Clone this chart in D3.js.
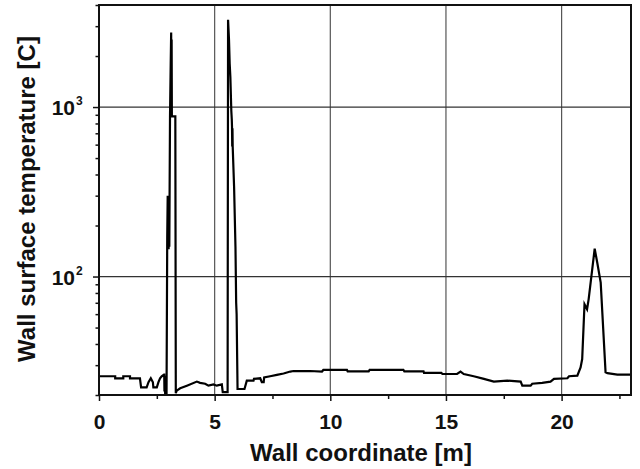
<!DOCTYPE html>
<html>
<head>
<meta charset="utf-8">
<script src="https://cdn.jsdelivr.net/npm/d3@7"></script>
<style>
  body { margin: 0; background: #fff; }
  text { font-family: "Liberation Sans", Arial, sans-serif; fill: #111; }
</style>
</head>
<body>
<script>
// wall coordinate [m] and surface temperature [C]
const wallX = [
    0.04, 0.70, 0.70, 1.05, 1.05, 1.34, 1.34, 1.77, 1.82, 2.06,
    2.14, 2.24, 2.33, 2.35, 2.50, 2.57, 2.64, 2.71, 2.81, 2.82,
    2.83, 2.845, 2.86, 2.92, 2.95, 2.97, 2.98, 3.00, 3.01, 3.03,
    3.04, 3.07, 3.10, 3.12, 3.13, 3.14, 3.15, 3.30, 3.32, 3.36,
    3.51, 3.80, 4.23, 4.37, 4.59, 4.73, 4.95, 5.09, 5.31, 5.35,
    5.56, 5.58, 5.62, 5.65, 5.68, 5.72, 5.74, 5.75, 5.76, 5.77,
    5.78, 5.84, 5.90, 5.93, 5.95, 5.98, 5.99, 6.29, 6.39, 6.68,
    6.70, 6.97, 7.04, 7.12, 7.14, 7.40, 7.69, 7.98, 8.27, 8.41,
    9.13, 9.64, 9.70, 10.72, 10.75, 11.66, 11.70, 13.16, 13.20, 14.03,
    14.05, 14.80, 14.85, 15.48, 15.63, 15.77, 16.20, 16.64, 17.07, 17.65,
    18.23, 18.30, 18.66, 18.73, 19.16, 19.52, 19.67, 20.25, 20.32, 20.68,
    20.82, 20.89, 20.99, 21.10, 21.17, 21.43, 21.54, 21.69, 21.90, 21.98,
    22.41, 22.97
];
const wallTemp = [
    25.8, 25.8, 25.1, 25.1, 25.8, 25.8, 25.1, 25.1, 22.2, 22.2,
    23.8, 25.1, 23.8, 22.2, 22.2, 23.8, 25.1, 25.8, 26.4, 26.4,
    21.0, 26.0, 20.5, 20.5, 170, 300, 145, 300, 145, 300,
    150, 880, 1800, 2750, 900, 2500, 880, 880, 20.5, 21.2,
    21.9, 22.7, 24.0, 23.6, 23.3, 22.7, 23.1, 22.7, 23.1, 20.8,
    20.8, 3270, 2500, 1800, 1500, 950, 850, 770, 585, 750,
    585, 340, 150, 70, 60, 28, 21.7, 21.7, 24.3, 24.3,
    24.9, 25.1, 23.8, 23.8, 25.4, 25.8, 26.3, 26.8, 27.5, 27.7,
    27.7, 27.5, 28.1, 28.1, 27.6, 27.6, 28.1, 28.1, 27.6, 27.6,
    27.0, 27.0, 26.6, 26.6, 27.5, 26.6, 25.8, 24.9, 24.0, 24.3,
    24.0, 22.7, 22.7, 23.3, 23.6, 24.0, 24.9, 25.1, 25.8, 26.0,
    29.1, 32.6, 68.7, 64.2, 73.6, 146, 121, 92, 27.2, 26.9,
    26.4, 26.4
];
const xTicks = [0, 5, 10, 15, 20];
const xMinorTicks = [2.5, 7.5, 12.5, 17.5, 22.5];
const yGrid = [100, 1000];

const width = 640;
const height = 469;
const margin = { top: 5, right: 9, bottom: 74, left: 99 };

const svg = d3.select('body')
    .append('svg')
    .attr('width', width)
    .attr('height', height);

const x = d3.scaleLinear()
    .domain([0, 23])
    .range([margin.left, width - margin.right]);

const y = d3.scaleLog()
    .domain([20, 4000])
    .range([height - margin.bottom, margin.top]);

svg.append('defs')
    .append('clipPath')
    .attr('id', 'plot-clip')
    .append('rect')
    .attr('x', margin.left)
    .attr('y', margin.top)
    .attr('width', width - margin.left - margin.right)
    .attr('height', height - margin.top - margin.bottom);

// grid
svg.append('g')
    .selectAll('line')
    .data(xTicks.slice(1))
    .enter()
    .append('line')
    .attr('x1', d => x(d))
    .attr('x2', d => x(d))
    .attr('y1', y.range()[0])
    .attr('y2', y.range()[1])
    .attr('stroke', '#555')
    .attr('stroke-width', 1.2);

svg.append('g')
    .selectAll('line')
    .data(yGrid)
    .enter()
    .append('line')
    .attr('x1', x.range()[0])
    .attr('x2', x.range()[1])
    .attr('y1', d => y(d))
    .attr('y2', d => y(d))
    .attr('stroke', '#333')
    .attr('stroke-width', 1.2);

// x axis ticks (major + minor)
const xAxis = svg.append('g')
    .attr('transform', `translate(0,${height - margin.bottom})`)
    .call(d3.axisBottom(x).tickValues(xTicks).tickSize(6).tickFormat(d3.format('d')));
svg.append('g')
    .attr('transform', `translate(0,${height - margin.bottom})`)
    .call(d3.axisBottom(x).tickValues(xMinorTicks).tickSize(4).tickFormat(''));

// y axis ticks (log minor ticks, labels only on decades)
const yMajor = y.ticks().filter(d => Math.abs(Math.log10(d) % 1) < 1e-9);
const yMinor = y.ticks().filter(d => yMajor.indexOf(d) < 0);
svg.append('g')
    .attr('transform', `translate(${margin.left},0)`)
    .call(d3.axisLeft(y).tickValues(yMajor).tickSize(6).tickFormat(''));
svg.append('g')
    .attr('transform', `translate(${margin.left},0)`)
    .call(d3.axisLeft(y).tickValues(yMinor).tickSize(3.5).tickFormat(''));

svg.selectAll('.domain').remove();
svg.selectAll('.tick line').attr('stroke', '#111').attr('stroke-width', 1.5);

xAxis.selectAll('.tick text')
    .attr('dy', 0)
    .attr('y', 34)
    .style('font-size', '21px')
    .style('font-weight', 'bold')
    .style('font-family', '"Liberation Sans", Arial, sans-serif')
    .attr('fill', '#111');

// 10^n labels with superscript
const yLabels = svg.append('g')
    .selectAll('text')
    .data(yMajor)
    .enter()
    .append('text')
    .attr('x', 75)
    .attr('y', d => y(d) + 8)
    .attr('text-anchor', 'end')
    .style('font-size', '21px')
    .style('font-weight', 'bold');
yLabels.append('tspan').text('10');
yLabels.append('tspan')
    .attr('x', 76)
    .attr('dy', -10)
    .attr('text-anchor', 'start')
    .style('font-size', '12px')
    .text(d => Math.round(Math.log10(d)));

// the temperature curve
const points = wallX.map((d, i) => [d, wallTemp[i]]);
const line = d3.line()
    .x(d => x(d[0]))
    .y(d => y(d[1]));

svg.append('path')
    .datum(points)
    .attr('clip-path', 'url(#plot-clip)')
    .attr('d', line)
    .attr('fill', 'none')
    .attr('stroke', '#000')
    .attr('stroke-width', 2.2)
    .attr('stroke-linejoin', 'miter');

// frame
svg.append('rect')
    .attr('x', margin.left)
    .attr('y', margin.top)
    .attr('width', width - margin.left - margin.right)
    .attr('height', height - margin.top - margin.bottom)
    .attr('fill', 'none')
    .attr('stroke', '#111')
    .attr('stroke-width', 2);

// axis titles
svg.append('text')
    .attr('x', 361)
    .attr('y', 461)
    .attr('text-anchor', 'middle')
    .style('font-size', '24px')
    .style('font-weight', 'bold')
    .text('Wall coordinate [m]');

svg.append('text')
    .attr('transform', 'translate(35,199) rotate(-90)')
    .attr('text-anchor', 'middle')
    .style('font-size', '24px')
    .style('font-weight', 'bold')
    .text('Wall surface temperature [C]');
</script>
</body>
</html>
